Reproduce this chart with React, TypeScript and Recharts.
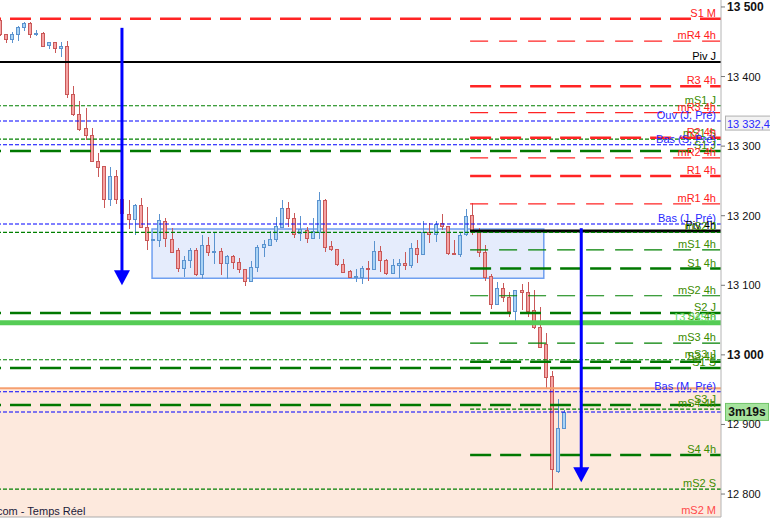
import { ComposedChart, Bar, XAxis, YAxis, ReferenceLine, ReferenceArea, ReferenceDot } from 'recharts';

const FONT = '"Liberation Sans", Arial, sans-serif';

// candles, oldest first
const opens = [
  13481, 13461, 13454, 13461, 13471, 13477, 13461, 13463, 13445, 13450,
  13441, 13444, 13375, 13346, 13326, 13316, 13279, 13271, 13224, 13257,
  13224, 13202, 13195, 13215, 13184, 13165, 13165, 13192, 13167, 13151,
  13125, 13136, 13151, 13116, 13158, 13148, 13149, 13132, 13142, 13133,
  13123, 13106, 13126, 13154, 13159, 13167, 13184, 13211, 13197, 13175,
  13179, 13168, 13177, 13223, 13156, 13152, 13131, 13120, 13112, 13112,
  13125, 13123, 13149, 13136, 13118, 13129, 13132, 13129, 13154, 13146,
  13177, 13174, 13190, 13185, 13146, 13145, 13174, 13201, 13177, 13148,
  13113, 13073, 13096, 13083, 13063, 13093, 13090, 13064, 13040, 13015,
  12970, 12833, 12895,
];
const highs = [
  13483, 13461, 13464, 13473, 13478, 13478, 13467, 13464, 13450, 13450,
  13450, 13451, 13386, 13365, 13355, 13326, 13290, 13272, 13270, 13266,
  13226, 13223, 13217, 13225, 13213, 13167, 13202, 13197, 13182, 13154,
  13142, 13154, 13154, 13172, 13169, 13177, 13154, 13143, 13143, 13139,
  13124, 13135, 13158, 13165, 13178, 13198, 13223, 13220, 13204, 13200,
  13184, 13197, 13234, 13224, 13164, 13152, 13138, 13122, 13123, 13128,
  13135, 13164, 13156, 13138, 13138, 13138, 13148, 13161, 13165, 13192,
  13190, 13192, 13202, 13185, 13165, 13177, 13210, 13218, 13182, 13158,
  13116, 13105, 13103, 13090, 13093, 13102, 13105, 13093, 13069, 13031,
  12977, 12936, 12921,
];
const lows = [
  13458, 13448, 13448, 13451, 13465, 13455, 13458, 13442, 13440, 13434,
  13428, 13369, 13343, 13322, 13309, 13277, 13256, 13211, 13214, 13217,
  13202, 13181, 13172, 13182, 13151, 13164, 13155, 13155, 13148, 13119,
  13112, 13125, 13113, 13109, 13142, 13131, 13115, 13109, 13123, 13118,
  13099, 13105, 13119, 13141, 13156, 13162, 13182, 13184, 13168, 13164,
  13161, 13168, 13167, 13148, 13149, 13128, 13118, 13110, 13105, 13102,
  13106, 13123, 13119, 13115, 13118, 13110, 13122, 13125, 13132, 13146,
  13161, 13162, 13179, 13143, 13143, 13141, 13171, 13172, 13141, 13106,
  13066, 13072, 13076, 13054, 13049, 13064, 13054, 13037, 13011, 12952,
  12807, 12830, 12895,
];
const closes = [
  13461, 13454, 13461, 13471, 13477, 13461, 13463, 13445, 13450, 13441,
  13444, 13375, 13346, 13325, 13316, 13279, 13271, 13224, 13257, 13224,
  13204, 13195, 13215, 13184, 13165, 13166, 13194, 13167, 13149, 13125,
  13136, 13151, 13116, 13158, 13148, 13149, 13132, 13142, 13133, 13123,
  13106, 13126, 13155, 13159, 13167, 13185, 13211, 13197, 13174, 13181,
  13168, 13178, 13223, 13155, 13151, 13131, 13119, 13112, 13113, 13125,
  13123, 13149, 13136, 13118, 13129, 13132, 13129, 13154, 13146, 13177,
  13174, 13188, 13185, 13146, 13145, 13172, 13200, 13178, 13148, 13112,
  13073, 13096, 13083, 13063, 13093, 13090, 13063, 13040, 13011, 12968,
  12836, 12895, 12918,
];

// support / resistance levels
const levelNames = [
  'S1 M', 'mR4 4h', 'Piv J', 'R3 4h', 'mS1 J', 'mR3 4h', 'Ouv (J, Pré)', 'mS1 S', 'R2 4h',
  'Bas (S, Pré)', 'S1 J', 'mR2 4h', 'R1 4h', 'mR1 4h', 'Bas (J, Pré)', 'Piv 4h', 'mS2 J',
  'mS1 4h', 'S1 4h', 'mS2 4h', 'S2 J', 'S2 4h', '13 045,6', 'mS3 4h', 'mS3 J', 'S3 4h', 'S1 S',
  '', 'Bas (M, Pré)', 'S3 J', 'mS4 4h', '', 'S4 4h', 'mS2 S', 'mS2 M',
];
const levelValues = [
  13483, 13451, 13421, 13386, 13358, 13348, 13336, 13310, 13312,
  13302, 13293, 13283, 13257, 13217, 13188, 13178, 13176,
  13151, 13124, 13085, 13060, 13047, 13046, 13017, 12993, 12990, 12981,
  12952, 12947, 12928, 12922, 12918, 12856, 12807, 12768,
];
const levelKinds = [
  'redThick', 'redThin', 'black', 'redThick', 'greenDot', 'redThin', 'blueDot', 'greenDot', 'redThick',
  'blueDot', 'greenThick', 'redThin', 'redThick', 'redThin', 'blueDot', 'blackThick', 'greenDot',
  'greenThin', 'greenThick', 'greenThin', 'greenThick', 'greenThick', 'lime', 'greenThin', 'greenDot', 'greenThick', 'greenThick',
  'orange', 'blueDot', 'greenThick', 'greenDot', 'blueDot', 'greenThick', 'greenDot', 'redLabel',
];

const fourHourStart = 77.7; // candle index where the current 4h period begins
const lastPrice = 12918;
const refPrice = 13332.4;
const rangeBox = { x1: 25.9, x2: 89.7, y1: 13110, y2: 13181 };
const lowZoneTop = 12952;
const arrows = [
  { x: 21, from: 13470, to: 13100 },
  { x: 95.8, from: 13182, to: 12817 },
];
const priceTicks = [12800, 12900, 13000, 13100, 13200, 13300, 13400, 13500];
const X_DOMAIN = [1.137, 118.56];
const Y_DOMAIN = [12767, 13510];

const styles: Record<string, any> = {
  redThick: { stroke: '#ff2424', strokeWidth: 2.5, strokeDasharray: '21 9', text: '#ff2020' },
  redThin: { stroke: '#ff2424', strokeWidth: 1.2, strokeDasharray: '18 11', text: '#ff2020' },
  black: { stroke: '#000', strokeWidth: 2, text: '#000' },
  blackThick: { stroke: '#000', strokeWidth: 3, text: '#000' },
  greenDot: { stroke: '#008000', strokeWidth: 1.1, strokeDasharray: '4 2', text: '#3c8c00' },
  greenThin: { stroke: '#008000', strokeWidth: 1.2, strokeDasharray: '18 11', text: '#3c8c00' },
  greenThick: { stroke: '#007800', strokeWidth: 2.5, strokeDasharray: '21 9', text: '#3c8c00' },
  blueDot: { stroke: '#0000ff', strokeWidth: 1.1, strokeDasharray: '4 2', text: '#2828ff' },
  lime: { stroke: '#55cc55', strokeWidth: 5, text: '#66dd66' },
  orange: { stroke: '#f6a070', strokeWidth: 2, text: '#f6a070' },
  redLabel: { stroke: 'none', strokeWidth: 0, text: '#ff4a4a' },
};

const data = opens.map((o, i) => ({
  idx: i + 1,
  open: o,
  high: highs[i],
  low: lows[i],
  close: closes[i],
  range: [lows[i], highs[i]],
}));

const fmt = (v: number) => `${Math.floor(v / 1000)} ${String(Math.round(v % 1000)).padStart(3, '0')}`;

const Candle = (props: any) => {
  const { x, y, width, height, payload } = props;
  if (x == null || y == null) return null;
  const { open, close, high, low } = payload;
  const top = Math.min(y, y + height);
  const h = Math.abs(height);
  const span = high - low;
  const py = (v: number) => (span === 0 ? top : top + ((high - v) / span) * h);
  const cx = Math.round(x + width / 2) + 0.5;
  const up = close >= open;
  const edge = up ? '#5b93cf' : '#c95858';
  const fill = up ? '#a9d3f5' : '#f5a3a3';
  const bTop = Math.round(Math.min(py(open), py(close))) + 0.5;
  const bH = Math.max(1, Math.round(Math.abs(py(open) - py(close))));
  return (
    <g>
      <line x1={cx} x2={cx} y1={Math.round(top)} y2={Math.round(top + h)} stroke={edge} strokeWidth={1} />
      <rect x={cx - 2} y={bTop} width={3} height={bH} fill={fill} stroke={edge} strokeWidth={1} />
    </g>
  );
};

const lineLabel = (text: string, color: string) => (p: any) => {
  const vb = p.viewBox || {};
  if (!text) return null;
  return (
    <text x={vb.x + vb.width - 5} y={vb.y - 2} textAnchor="end" fontSize={11} fontFamily={FONT} fill={color}>
      {text}
    </text>
  );
};

const PriceTick = (p: any) => {
  const v = p.payload.value;
  const bold = v % 500 === 0;
  return (
    <text x={p.x} y={p.y} dy={4} fontSize={bold ? 12 : 11} fontWeight={bold ? 'bold' : 'normal'} fill="#111" fontFamily={FONT}>
      {fmt(v)}
    </text>
  );
};

const RefPriceBox = (p: any) => {
  const vb = p.viewBox || {};
  const x = vb.x + vb.width + 4;
  return (
    <g>
      <rect x={x + 0.5} y={vb.y - 7.5} width={46} height={14} fill="#f2f2f2" stroke="#b0b0b0" />
      <text x={x + 2} y={vb.y + 4} fontSize={11} fontFamily={FONT} fill="#2828ff">13 332,4</text>
    </g>
  );
};

const TimerBox = (p: any) => {
  const vb = p.viewBox || {};
  const x = vb.x + vb.width + 4;
  return (
    <g>
      <rect x={x + 0.5} y={vb.y - 8.5} width={43} height={17} fill="#a6e39e" stroke="#70c468" />
      <text x={x + 22} y={vb.y + 4.5} textAnchor="middle" fontSize={12} fontWeight="bold" fontFamily={FONT} fill="#111">3m19s</text>
    </g>
  );
};

export default function App() {
  return (
    <div style={{ position: 'absolute', left: 0, top: 0, width: 770, height: 524, background: '#fff', overflow: 'hidden' }}>
      <ComposedChart width={770} height={524} data={data} margin={{ top: 0, right: 0, left: 0, bottom: 0 }}>
        <XAxis
          dataKey="idx"
          type="number"
          domain={X_DOMAIN}
          allowDataOverflow
          tick={false}
          tickLine={false}
          axisLine={{ stroke: '#ababab' }}
          height={7}
        />
        <YAxis
          orientation="right"
          domain={Y_DOMAIN}
          allowDataOverflow
          ticks={priceTicks}
          interval={0}
          tick={<PriceTick />}
          tickSize={4}
          tickLine={{ stroke: '#777' }}
          axisLine={{ stroke: '#b4b4b4' }}
          width={49}
        />
        <ReferenceArea y1={Y_DOMAIN[0]} y2={lowZoneTop} fill="#fde9dd" fillOpacity={1} stroke="none" />
        <ReferenceArea
          x1={rangeBox.x1}
          x2={rangeBox.x2}
          y1={rangeBox.y1}
          y2={rangeBox.y2}
          fill="#e5ecfc"
          fillOpacity={1}
          stroke="#6f9ff0"
          strokeWidth={1.5}
        />
        <Bar dataKey="range" barSize={5} shape={<Candle />} isAnimationActive={false} />
        {levelValues.map((v, i) => {
          const name = levelNames[i];
          const st = styles[levelKinds[i]];
          const partial = name.includes('4h');
          const common = {
            stroke: st.stroke,
            strokeWidth: st.strokeWidth,
            strokeDasharray: st.strokeDasharray,
            label: lineLabel(name, st.text),
            ifOverflow: 'visible' as const,
          };
          return partial ? (
            <ReferenceLine key={i} segment={[{ x: fourHourStart, y: v }, { x: X_DOMAIN[1], y: v }]} {...common} />
          ) : (
            <ReferenceLine key={i} y={v} {...common} />
          );
        })}
        <ReferenceLine y={refPrice} stroke="none" label={RefPriceBox} />
        <ReferenceLine y={lastPrice} stroke="none" label={TimerBox} />
        {arrows.map((a, i) => (
          <ReferenceLine
            key={'as' + i}
            segment={[{ x: a.x, y: a.from }, { x: a.x, y: a.to + 8 }]}
            stroke="#0000ff"
            strokeWidth={3}
          />
        ))}
        {arrows.map((a, i) => (
          <ReferenceDot
            key={'ah' + i}
            x={a.x}
            y={a.to}
            r={1}
            shape={(p: any) => (
              <polygon points={`${p.cx - 8},${p.cy - 15} ${p.cx + 8},${p.cy - 15} ${p.cx},${p.cy}`} fill="#0000ff" />
            )}
          />
        ))}
      </ComposedChart>
      <div style={{ position: 'absolute', left: -3, top: 505, fontFamily: FONT, fontSize: 11, lineHeight: '13px', color: '#1a1a3a' }}>
        com - Temps Réel
      </div>
    </div>
  );
}
